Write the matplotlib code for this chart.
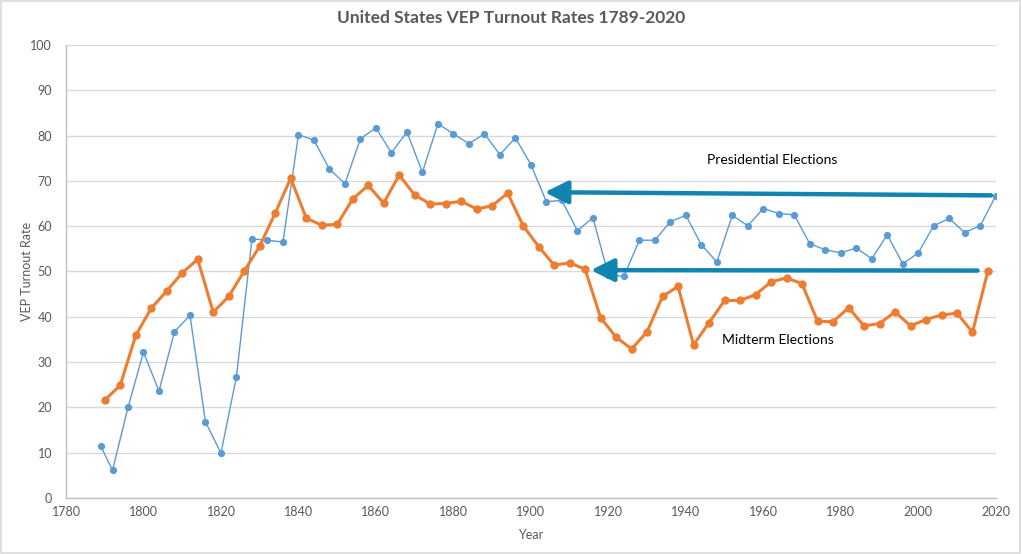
import matplotlib
matplotlib.use("Agg")
import matplotlib.pyplot as plt
from matplotlib.patches import Rectangle

# ---- data ----
pres_years = [1789, 1792, 1796, 1800, 1804, 1808, 1812, 1816, 1820, 1824, 1828, 1832,
              1836, 1840, 1844, 1848, 1852, 1856, 1860, 1864, 1868, 1872, 1876, 1880,
              1884, 1888, 1892, 1896, 1900, 1904, 1908, 1912, 1916, 1920, 1924, 1928,
              1932, 1936, 1940, 1944, 1948, 1952, 1956, 1960, 1964, 1968, 1972, 1976,
              1980, 1984, 1988, 1992, 1996, 2000, 2004, 2008, 2012, 2016, 2020]
pres_vals = [11.4, 6.1, 20.0, 32.2, 23.6, 36.7, 40.3, 16.8, 9.9, 26.8, 57.2, 56.9,
             56.5, 80.2, 79.0, 72.6, 69.4, 79.3, 81.7, 76.2, 80.8, 71.9, 82.6, 80.4,
             78.2, 80.4, 75.8, 79.5, 73.6, 65.4, 65.7, 59.0, 61.9, 49.3, 48.9, 56.9,
             56.9, 61.0, 62.4, 55.9, 52.1, 62.4, 60.1, 63.9, 62.8, 62.5, 56.1, 54.8,
             54.1, 55.2, 52.8, 58.1, 51.7, 54.1, 60.1, 61.7, 58.6, 60.1, 66.7]

mid_years = [1790, 1794, 1798, 1802, 1806, 1810, 1814, 1818, 1822, 1826, 1830, 1834,
             1838, 1842, 1846, 1850, 1854, 1858, 1862, 1866, 1870, 1874, 1878, 1882,
             1886, 1890, 1894, 1898, 1902, 1906, 1910, 1914, 1918, 1922, 1926, 1930,
             1934, 1938, 1942, 1946, 1950, 1954, 1958, 1962, 1966, 1970, 1974, 1978,
             1982, 1986, 1990, 1994, 1998, 2002, 2006, 2010, 2014, 2018]
mid_vals = [21.6, 24.9, 35.9, 41.9, 45.7, 49.7, 52.7, 41.0, 44.5, 50.1, 55.6, 62.9,
            70.6, 61.8, 60.2, 60.4, 66.0, 69.0, 65.1, 71.3, 66.9, 64.9, 65.0, 65.5,
            63.8, 64.5, 67.3, 60.1, 55.5, 51.4, 51.9, 50.5, 39.8, 35.5, 32.9, 36.7,
            44.5, 46.7, 33.8, 38.7, 43.6, 43.6, 44.9, 47.7, 48.6, 47.3, 39.0, 38.9,
            42.0, 38.0, 38.5, 41.1, 38.0, 39.4, 40.4, 40.8, 36.6, 50.2]

x_ticks = [1780, 1800, 1820, 1840, 1860, 1880, 1900, 1920, 1940, 1960, 1980, 2000, 2020]
y_ticks = [0, 10, 20, 30, 40, 50, 60, 70, 80, 90, 100]

title = "United States VEP Turnout Rates 1789-2020"
pres_label = "Presidential Elections"
mid_label = "Midterm Elections"

# annotation arrows (tail -> head) in data coordinates
pres_arrow = ((2018.8, 66.8), (1903.6, 67.5))
mid_arrow = ((2015.3, 50.2), (1915.5, 50.3))

# ---- style ----
plt.rcParams['font.family'] = ['Lato', 'DejaVu Sans']
gray = '#595959'
blue = '#5B9BD5'
orange = '#ED7D31'
arrow_c = '#1184B2'

fig = plt.figure(figsize=(10.22, 5.54), dpi=100)
fig.patch.set_facecolor('white')
fig.patches.append(Rectangle((0.0005, 0.001), 0.9975, 0.997, transform=fig.transFigure,
                             fill=False, edgecolor='#d9d9d9', linewidth=1.2))

ax = fig.add_axes([0.0646, 0.1011, 0.9097, 0.8177])

ax.plot(pres_years, pres_vals, color=blue, linewidth=1.0, marker='o',
        markersize=5.2, markeredgewidth=0, zorder=3)
ax.plot(mid_years, mid_vals, color=orange, linewidth=2.2, marker='o',
        markersize=6, markeredgewidth=0, zorder=3)

ax.set_xlim(1780, 2020)
ax.set_ylim(0, 100)
ax.set_xticks(x_ticks)
ax.set_yticks(y_ticks)
ax.tick_params(axis='both', length=0, labelsize=9, colors=gray, pad=6)
ax.tick_params(axis='y', pad=10)
ax.yaxis.grid(True, color='#d9d9d9', linewidth=1.0)
ax.set_axisbelow(True)
for s in ['top', 'right']:
    ax.spines[s].set_visible(False)
for s in ['left', 'bottom']:
    ax.spines[s].set_color('#bfbfbf')
    ax.spines[s].set_linewidth(1.0)

ax.set_xlabel('Year', fontsize=9, color=gray, labelpad=8)
ax.set_ylabel('VEP Turnout Rate', fontsize=9, color=gray, labelpad=-2)

fig.text(0.5, 1 - 18 / 554, title, ha='center', va='center', fontsize=12.5,
         fontweight='bold', color=gray)

for (tail, head) in (pres_arrow, mid_arrow):
    ax.annotate('', xy=head, xytext=tail,
                arrowprops=dict(arrowstyle='-|>,head_length=0.7,head_width=0.35',
                                mutation_scale=20, color=arrow_c, linewidth=3.2,
                                shrinkA=0, shrinkB=0), zorder=4)

ax.text(1962.2, 74.7, pres_label, ha='center', va='center', fontsize=10, color='black')
ax.text(1963.8, 34.8, mid_label, ha='center', va='center', fontsize=10, color='black')

fig.savefig('out.png', dpi=100, facecolor='white')
